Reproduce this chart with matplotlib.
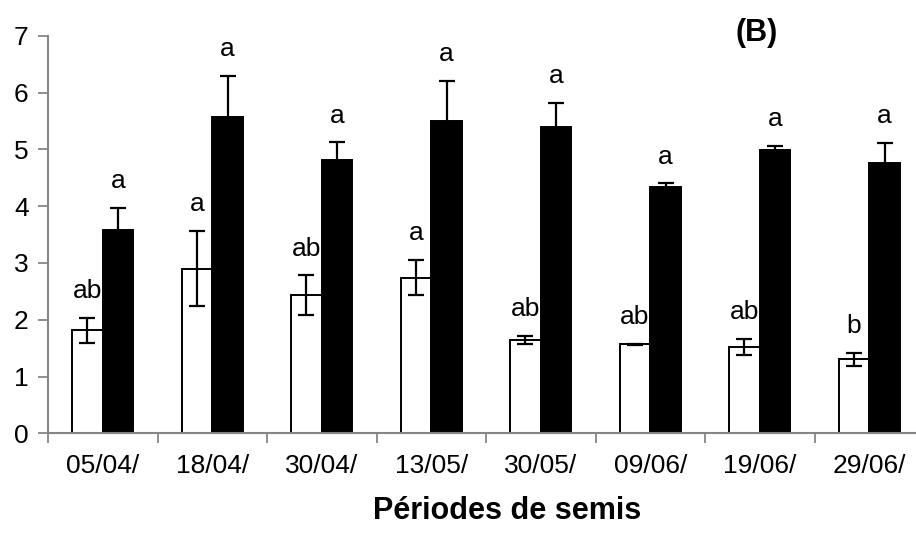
import matplotlib
matplotlib.use("Agg")
import matplotlib.pyplot as plt
import numpy as np

plt.rcParams['font.family'] = ['Liberation Sans', 'DejaVu Sans']

categories = ["05/04/", "18/04/", "30/04/", "13/05/", "30/05/", "09/06/", "19/06/", "29/06/"]
white_vals = [1.81, 2.90, 2.43, 2.74, 1.64, 1.57, 1.52, 1.30]
white_err = [0.22, 0.66, 0.35, 0.31, 0.07, 0.01, 0.14, 0.12]
black_vals = [3.58, 5.57, 4.81, 5.49, 5.40, 4.34, 4.98, 4.76]
black_err = [0.38, 0.72, 0.31, 0.72, 0.42, 0.06, 0.08, 0.35]
white_letters = ["ab", "a", "ab", "a", "ab", "ab", "ab", "b"]
black_letters = ["a", "a", "a", "a", "a", "a", "a", "a"]

fig = plt.figure(figsize=(9.16, 5.33), dpi=100)
ax = fig.add_axes([48/916, (533-433.3)/533, 876/916, (433.3-35.7)/533])

x = np.arange(len(categories))
w = 0.28
ekw = dict(elinewidth=1.6, capthick=1.6, ecolor='black')
ax.bar(x - w/2, white_vals, w, color='white', edgecolor='black', linewidth=1.4,
       yerr=white_err, capsize=6, error_kw=ekw, zorder=2)
ax.bar(x + w/2, black_vals, w, color='black', edgecolor='black', linewidth=1.4,
       yerr=black_err, capsize=6, error_kw=ekw, zorder=2)

off = 0.35
for i in range(len(categories)):
    ax.text(x[i] - w/2, white_vals[i] + white_err[i] + off, white_letters[i],
            ha='center', va='baseline', fontsize=19)
    ax.text(x[i] + w/2, black_vals[i] + black_err[i] + off, black_letters[i],
            ha='center', va='baseline', fontsize=19)

ax.set_xlim(-0.5, 7.5)
ax.set_ylim(0, 7)
ax.set_yticks(range(0, 8))
ax.set_xticks(x)
ax.set_xticklabels(categories, fontsize=19)
ax.set_xticks(np.arange(-0.5, 8.0, 1.0), minor=True)
ax.tick_params(axis='x', which='major', length=0, pad=15)
ax.tick_params(axis='x', which='minor', length=7, width=1.3, color='#868686', direction='out')
ax.tick_params(axis='y', length=7, width=1.3, color='#868686', direction='out', labelsize=19, pad=7)

for s in ['top', 'right']:
    ax.spines[s].set_visible(False)
for s in ['left', 'bottom']:
    ax.spines[s].set_color('#868686')
    ax.spines[s].set_linewidth(1.5)

ax.set_xlabel("Périodes de semis", fontsize=22, fontweight='bold', va='center')
ax.xaxis.set_label_coords((507.5 - 48) / 876, (433.3 - 511) / 397.6)
fig.text(757/916, 1 - 33/533, "(B)", fontsize=22, fontweight='bold', ha='center', va='center')

fig.savefig("out.png", dpi=100)
